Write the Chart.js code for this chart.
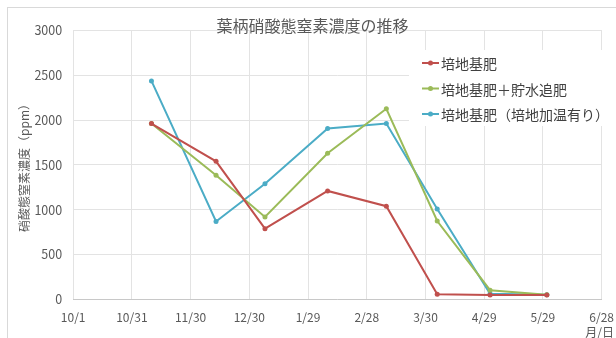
<!doctype html>
<html lang="ja">
<head>
<meta charset="utf-8">
<title>葉柄硝酸態窒素濃度の推移</title>
<script src="https://cdn.jsdelivr.net/npm/chart.js@4.4.1/dist/chart.umd.min.js"></script>
<style>
    body { margin: 0; background: #fff; }
    #wrap { position: relative; width: 616px; height: 338px; overflow: hidden; }
    #frame { position: absolute; left: 7px; top: 7px; width: 620px; height: 340px; border: 1px solid #d9d9d9; }
    #myChart { position: absolute; left: 0; top: 0; }
</style>
</head>
<body>
<div id="wrap">
    <div id="frame"></div>
    <canvas id="myChart" width="616" height="338"></canvas>
</div>
<script>
    // sampling dates (month/day), season starting 10/1
    var dates = ['11/10', '12/13', '1/7', '2/8', '3/10', '4/5', '5/2', '5/31'];
    var tickLabels = ['10/1', '10/31', '11/30', '12/30', '1/29', '2/28', '3/30', '4/29', '5/29', '6/28'];

    var kihi = [1960, 1540, 790, 1210, 1040, 60, 50, 50];
    var kihiTsuihi = [1960, 1385, 920, 1630, 2125, 875, 105, 55];
    var kihiKaon = [2435, 870, 1290, 1905, 1960, 1010, 65, 55];

    var names = ['培地基肥', '培地基肥＋貯水追肥', '培地基肥（培地加温有り）'];
    var colors = ['#c0504d', '#9bbb59', '#4bacc6'];
    var xUnit = '月/日';

    var font = '"Noto Sans CJK JP", "Noto Sans", sans-serif';

    // days since 10/1 (non leap season)
    function dayOf(md) {
        var p = md.split('/');
        var m = +p[0], d = +p[1];
        var year = m >= 10 ? 2018 : 2019;
        return Math.round((Date.UTC(year, m - 1, d) - Date.UTC(2018, 9, 1)) / 86400000);
    }

    function points(values) {
        return values.map(function (v, i) {
            return { x: dayOf(dates[i]), y: v };
        });
    }

    var series = [kihi, kihiTsuihi, kihiKaon];
    var datasets = series.map(function (s, i) {
        return {
            label: names[i],
            data: points(s),
            borderColor: colors[i],
            backgroundColor: colors[i],
            borderWidth: 2,
            pointRadius: 2.5,
            pointBorderWidth: 0,
            tension: 0
        };
    });

    // legend drawn inside the plot on a white box, plus the unit under the last tick
    var extras = {
        id: 'extras',
        afterDraw: function (chart) {
            var ctx = chart.ctx;
            ctx.save();
            ctx.fillStyle = '#fff';
            ctx.fillRect(409, 50, 200, 76);
            ctx.font = '14px ' + font;
            ctx.textBaseline = 'middle';
            ctx.textAlign = 'left';
            chart.data.datasets.forEach(function (ds, i) {
                var y = 63 + i * 25.5;
                ctx.strokeStyle = ds.borderColor;
                ctx.lineWidth = 2;
                ctx.beginPath();
                ctx.moveTo(422, y);
                ctx.lineTo(439, y);
                ctx.stroke();
                ctx.fillStyle = ds.borderColor;
                ctx.beginPath();
                ctx.arc(430.5, y, 2.5, 0, Math.PI * 2);
                ctx.fill();
                ctx.fillStyle = '#404040';
                ctx.fillText(ds.label, 441, y + 1);
            });

            ctx.font = '12px ' + font;
            ctx.fillStyle = '#595959';
            ctx.textAlign = 'right';
            ctx.fillText(xUnit, 614, 332);
            ctx.restore();
        }
    };

    var ctx = document.getElementById('myChart').getContext('2d');
    var myChart = new Chart(ctx, {
        type: 'line',
        data: { datasets: datasets },
        plugins: [extras],
        options: {
            responsive: false,
            animation: false,
            layout: { padding: { left: 17, right: 8, top: 0, bottom: 11 } },
            plugins: {
                legend: { display: false },
                tooltip: { enabled: false },
                title: {
                    display: true,
                    text: '葉柄硝酸態窒素濃度の推移',
                    color: '#595959',
                    font: { family: font, size: 16, weight: 'normal' },
                    padding: { top: 16, bottom: -5 }
                }
            },
            scales: {
                x: {
                    type: 'linear',
                    min: 0,
                    max: 270,
                    ticks: {
                        stepSize: 30,
                        color: '#595959',
                        font: { family: font, size: 12 },
                        padding: 2,
                        maxRotation: 0,
                        callback: function (v) { return tickLabels[v / 30]; }
                    },
                    grid: { color: '#e3e3e3', drawTicks: true, tickLength: 9, tickColor: 'rgba(0,0,0,0)' },
                    border: { color: '#c8c8c8' }
                },
                y: {
                    min: 0,
                    max: 3000,
                    ticks: {
                        stepSize: 500,
                        color: '#595959',
                        font: { family: font, size: 12.5 },
                        padding: 11,
                        callback: function (v) { return String(v); }
                    },
                    grid: { color: '#e3e3e3', drawTicks: false },
                    border: { display: false },
                    title: {
                        display: true,
                        text: '硝酸態窒素濃度（ppm）',
                        color: '#595959',
                        font: { family: font, size: 12 },
                        padding: { top: 0, bottom: -8 }
                    }
                }
            }
        }
    });
</script>
</body>
</html>
